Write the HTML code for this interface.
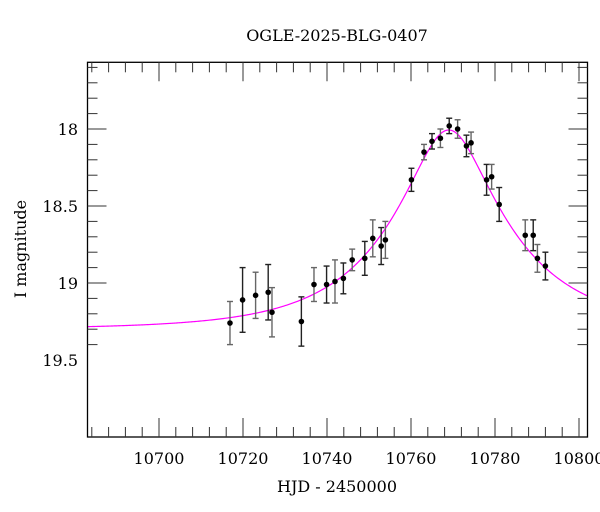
<!DOCTYPE html>
<html><head><meta charset="utf-8"><style>
html,body{margin:0;padding:0;background:#fff;overflow:hidden;}
svg{display:block;font-family:"DejaVu Serif","Liberation Serif",serif;}
</style></head><body>
<svg id="chart" width="600" height="512">
<text x="337" y="41" text-anchor="middle" font-size="16">OGLE-2025-BLG-0407</text>
<text x="337" y="492" text-anchor="middle" font-size="16">HJD - 2450000</text>
<text transform="translate(26,249) rotate(-90)" text-anchor="middle" font-size="16">I magnitude</text>
<g id="plot"></g>
</svg>
<script>
const days=[10716.9,10719.9,10723.0,10726.0,10726.9,10733.9,10736.9,10739.9,10741.9,10743.9,10746.0,10749.0,10750.9,10752.9,10753.9,10760.1,10763.1,10765.0,10767.0,10769.1,10771.1,10773.2,10774.3,10778.0,10779.2,10781.0,10787.2,10789.1,10790.1,10792.0];
const mags=[19.26,19.11,19.08,19.06,19.19,19.25,19.01,19.01,18.99,18.97,18.85,18.84,18.71,18.76,18.72,18.33,18.15,18.08,18.06,17.98,18.00,18.11,18.09,18.33,18.31,18.49,18.69,18.69,18.84,18.89];
const errs=[0.14,0.21,0.15,0.18,0.16,0.16,0.11,0.12,0.14,0.10,0.07,0.11,0.12,0.12,0.12,0.075,0.05,0.05,0.06,0.05,0.06,0.07,0.07,0.10,0.08,0.11,0.10,0.10,0.09,0.09];
const xTicks=[10700,10720,10740,10760,10780,10800];
const yTicks=[18,18.5,19,19.5];
const yTickLabels=["18","18.5","19","19.5"];
const model={t0:10769,tE:28,u0:0.315,base:19.30};
const L=87.5,R=587.5,T=62.3,B=437;
const xMin=10682.9,xMax=10802,yMin=17.565;
const X=d=>159+(d-10700)*4.2;
const Y=m=>129+(m-18)*154;
const NS="http://www.w3.org/2000/svg";
const g=document.getElementById('plot');
function el(tag,attrs,parent){const e=document.createElementNS(NS,tag);for(const k in attrs)e.setAttribute(k,attrs[k]);(parent||g).appendChild(e);return e;}
const clip=el('clipPath',{id:'c'});el('rect',{x:L,y:T,width:R-L,height:B-T},clip);
let pts=[];
for(let d=xMin;d<=xMax;d+=0.25){const u=Math.sqrt(model.u0*model.u0+Math.pow((d-model.t0)/model.tE,2));const A=(u*u+2)/(u*Math.sqrt(u*u+4));pts.push(X(d).toFixed(2)+','+Y(model.base-2.5*Math.log10(A)).toFixed(2));}
const curve=el('polyline',{points:pts.join(' '),fill:'none',stroke:'#ff00ff','stroke-width':1.2,'clip-path':'url(#c)'});


const frame=el('rect',{x:L,y:T,width:R-L,height:B-T,fill:'none',stroke:'#000','stroke-width':1.3});


for(let d=10684;d<=xMax;d+=4){const x=X(d);if(x<L||x>R)continue;const maj=(d%20===0);const len=maj?19:10;
el('line',{x1:x,y1:B,x2:x,y2:B-len,stroke:'#333','stroke-width':1});
el('line',{x1:x,y1:T,x2:x,y2:T+len,stroke:'#333','stroke-width':1});}
xTicks.forEach(d=>{const t=el('text',{x:X(d),y:464,'text-anchor':'middle','font-size':16});t.textContent=d;

});
for(let i=6;i<=24;i++){const m=17+i*0.1;const y=Y(m);if(y<T||y>B)continue;const maj=(i%5===0);const len=maj?19:10;
el('line',{x1:L,y1:y,x2:L+len,y2:y,stroke:'#333','stroke-width':1});
el('line',{x1:R,y1:y,x2:R-len,y2:y,stroke:'#333','stroke-width':1});}
yTicks.forEach((m,i)=>{const t=el('text',{x:78,y:Y(m)+6,'text-anchor':'end','font-size':16});t.textContent=yTickLabels[i];

});
days.forEach((d,i)=>{const x=X(d),y=Y(mags[i]),e=errs[i]*154;
const grp=el('g',{});


const c=(i%2)?'#222':'#666';
el('line',{x1:x,y1:y-e,x2:x,y2:y+e,stroke:c,'stroke-width':1.4},grp);
el('line',{x1:x-3,y1:y-e,x2:x+3,y2:y-e,stroke:c,'stroke-width':1.4},grp);
el('line',{x1:x-3,y1:y+e,x2:x+3,y2:y+e,stroke:c,'stroke-width':1.4},grp);
el('circle',{cx:x,cy:y,r:2.8,fill:'#000'},grp);});
</script>
</body></html>
